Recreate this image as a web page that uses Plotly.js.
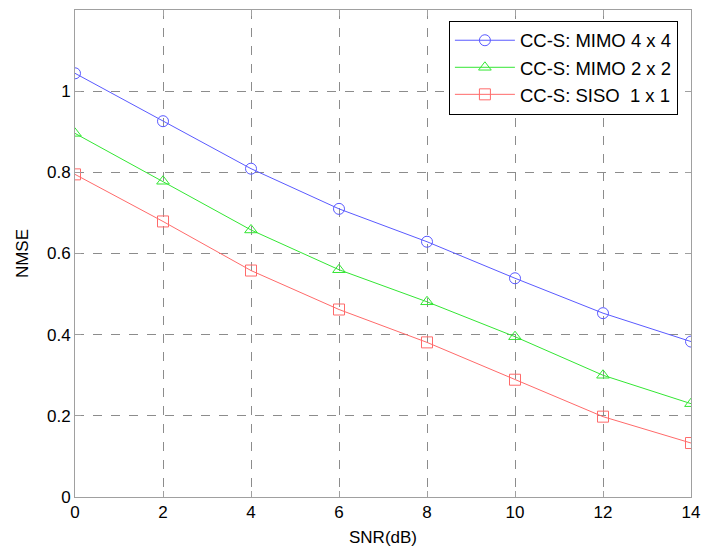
<!DOCTYPE html>
<html>
<head>
<meta charset="utf-8">
<script src="https://cdn.plot.ly/plotly-3.0.1.min.js"></script>
<style>html,body{margin:0;padding:0;background:#fff;}#chart{width:701px;height:547px;}</style>
</head>
<body>
<div id="chart"></div>
<script>
const snr = [0, 2, 4, 6, 8, 10, 12, 14];
const mimo44 = [1.044, 0.926, 0.809, 0.710, 0.629, 0.539, 0.453, 0.383];
const mimo22 = [0.896, 0.778, 0.658, 0.560, 0.481, 0.395, 0.300, 0.230];
const siso11 = [0.795, 0.679, 0.558, 0.462, 0.381, 0.289, 0.198, 0.133];
const names = ['CC-S: MIMO 4 x 4', 'CC-S: MIMO 2 x 2', 'CC-S: SISO  1 x 1'];
const xTicks = [0, 2, 4, 6, 8, 10, 12, 14];
const yTicks = [0, 0.2, 0.4, 0.6, 0.8, 1];

function trace(y, name, color, symbol) {
  return {
    x: snr, y: y, name: name, type: 'scatter', mode: 'lines+markers',
    line: {color: color, width: 1},
    marker: {symbol: symbol, size: 11, color: color, line: {color: color, width: 1}}
  };
}
const data = [
  trace(mimo44, names[0], '#5a5aff', 'circle-open'),
  trace(mimo22, names[1], '#33e633', 'triangle-up-open'),
  trace(siso11, names[2], '#ff6a6a', 'square-open')
];
const font = {family: 'Liberation Sans, Arial, sans-serif', size: 17, color: '#000'};
const axisCommon = {
  showline: true, linecolor: '#a0a0a0', linewidth: 1, mirror: 'ticks',
  ticks: 'inside', ticklen: 6, tickcolor: '#a0a0a0',
  showgrid: true, gridcolor: '#8c8c8c', griddash: 'dash', gridwidth: 1,
  zeroline: false, tickfont: font
};
const layout = {
  width: 701, height: 547,
  margin: {l: 75, r: 10, t: 10, b: 50},
  paper_bgcolor: '#fff', plot_bgcolor: '#fff',
  font: font,
  showlegend: true,
  legend: {x: 0.607, y: 0.978, xanchor: 'left', yanchor: 'top',
    bordercolor: '#000', borderwidth: 1, bgcolor: '#fff',
    font: {family: 'Liberation Sans, Arial, sans-serif', size: 18.5, color: '#000'},
    tracegroupgap: 0, itemwidth: 60},
  xaxis: Object.assign({}, axisCommon, {
    range: [0, 14], tickvals: xTicks, ticktext: xTicks.map(String),
    title: {text: 'SNR(dB)', font: font, standoff: 9}
  }),
  yaxis: Object.assign({}, axisCommon, {
    range: [0, 1.2], tickvals: yTicks, ticktext: yTicks.map(String),
    title: {text: 'NMSE', font: font, standoff: 14}
  })
};
Plotly.newPlot('chart', data, layout, {displayModeBar: false, staticPlot: true});
</script>
</body>
</html>
